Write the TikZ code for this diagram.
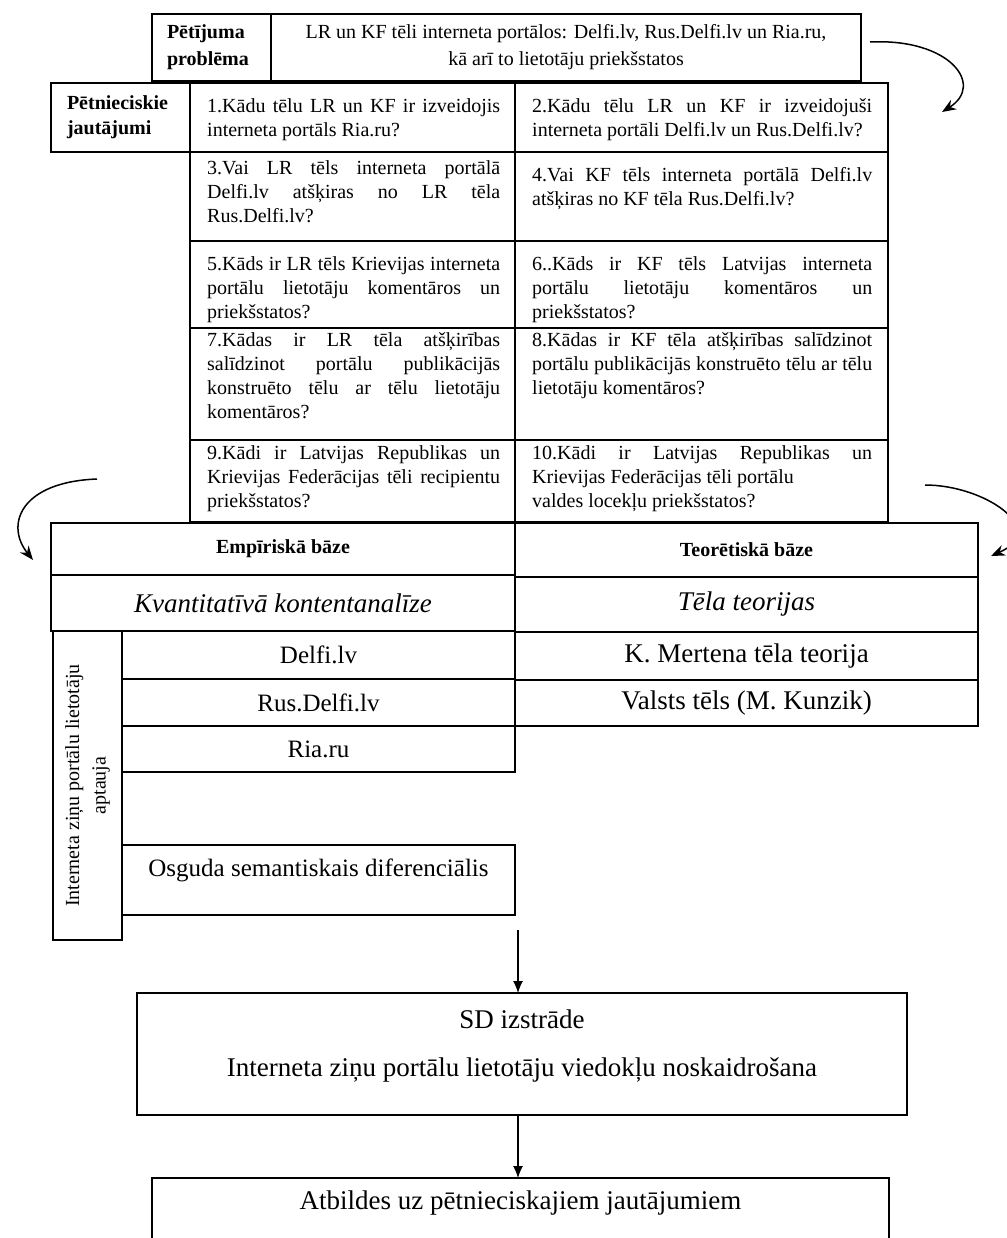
\documentclass[tikz,border=0pt]{standalone}
\usepackage{fontspec}
\setmainfont{Liberation Serif}
\usetikzlibrary{arrows.meta,positioning}
\hyphenpenalty=10000
\tolerance=9999
\emergencystretch=20pt

\begin{document}
\begin{tikzpicture}[x=1pt,y=-1pt,
	suna/.style={draw,rectangle,line width=1.3pt,inner sep=0pt,outer sep=0pt,anchor=north west},
	jaut/.style={anchor=north west,inner sep=0pt,align=justify,font=\fontsize{20}{24}\selectfont},
	virsraksts/.style={font=\bfseries\fontsize{20}{25}\selectfont},
	liels/.style={font=\fontsize{27}{32}\selectfont},
	videjs/.style={font=\fontsize{25}{30}\selectfont},
	bulta/.style={-{Stealth[length=14pt,width=11pt]},line width=1.5pt},
	lejup/.style={-{Latex[length=12pt,width=10pt]},line width=1.2pt}]

\useasboundingbox (0,0) rectangle (1006,1238);

%-------------------------------------------------------------------------------
% Petijuma problema
%-------------------------------------------------------------------------------
\node (probl) [suna,minimum width=119pt,minimum height=67pt,text width=89pt,align=left,
	font=\bfseries\fontsize{20}{27}\selectfont] at (152,14) {Pētījuma\\problēma};
\node (problema) [suna,right=0pt of probl.north east,anchor=north west,minimum width=590pt,minimum height=67pt,
	align=center,font=\fontsize{20}{27}\selectfont]
	{LR un KF tēli interneta portālos: Delfi.lv, Rus.Delfi.lv un Ria.ru,\\kā arī to lietotāju priekšstatos};

%-------------------------------------------------------------------------------
% Petnieciskie jautajumi
%-------------------------------------------------------------------------------
\node (petn) [suna,virsraksts,minimum width=139pt,minimum height=69pt,text width=107pt,align=left] at (51,83) {Pētnieciskie\\jautājumi};

\node (q1) [suna,minimum width=325pt,minimum height=69pt] at (190,83) {};
\node (q2) [suna,right=0pt of q1.north east,anchor=north west,minimum width=373pt,minimum height=69pt] {};
\node (q3) [suna,below=0pt of q1.south west,anchor=north west,minimum width=325pt,minimum height=89pt] {};
\node (q4) [suna,right=0pt of q3.north east,anchor=north west,minimum width=373pt,minimum height=89pt] {};
\node (q5) [suna,below=0pt of q3.south west,anchor=north west,minimum width=325pt,minimum height=87pt] {};
\node (q6) [suna,right=0pt of q5.north east,anchor=north west,minimum width=373pt,minimum height=87pt] {};
\node (q7) [suna,below=0pt of q5.south west,anchor=north west,minimum width=325pt,minimum height=112pt] {};
\node (q8) [suna,right=0pt of q7.north east,anchor=north west,minimum width=373pt,minimum height=112pt] {};
\node (q9) [suna,below=0pt of q7.south west,anchor=north west,minimum width=325pt,minimum height=82pt] {};
\node (q10) [suna,right=0pt of q9.north east,anchor=north west,minimum width=373pt,minimum height=82pt] {};

\node (t1) [jaut,text width=293pt] at ([xshift=17pt,yshift=-15pt]q1.north west)
	{1.Kādu tēlu LR un KF ir izveidojis\linebreak interneta portāls Ria.ru?};
\node (t2) [jaut,text width=340pt] at ([xshift=17pt,yshift=-15pt]q2.north west)
	{2.Kādu tēlu LR un KF ir izveidojuši\linebreak interneta portāli Delfi.lv un Rus.Delfi.lv?};
\node (t3) [jaut,text width=293pt] at ([xshift=17pt,yshift=-8pt]q3.north west)
	{3.Vai LR tēls interneta portālā\linebreak Delfi.lv atšķiras no LR tēla\linebreak Rus.Delfi.lv?};
\node (t4) [jaut,text width=340pt] at ([xshift=17pt,yshift=-15pt]q4.north west)
	{4.Vai KF tēls interneta portālā Delfi.lv\linebreak atšķiras no KF tēla Rus.Delfi.lv?};
\node (t5) [jaut,text width=293pt] at ([xshift=17pt,yshift=-15pt]q5.north west)
	{5.Kāds ir LR tēls Krievijas interneta\linebreak portālu lietotāju komentāros un\linebreak priekšstatos?};
\node (t6) [jaut,text width=340pt] at ([xshift=17pt,yshift=-15pt]q6.north west)
	{6..Kāds ir KF tēls Latvijas interneta\linebreak portālu lietotāju komentāros un\linebreak priekšstatos?};
\node (t7) [jaut,text width=293pt] at ([xshift=17pt,yshift=-4pt]q7.north west)
	{7.Kādas ir LR tēla atšķirības\linebreak salīdzinot portālu publikācijās\linebreak konstruēto tēlu ar tēlu lietotāju\linebreak komentāros?};
\node (t8) [jaut,text width=340pt] at ([xshift=17pt,yshift=-4pt]q8.north west)
	{8.Kādas ir KF tēla atšķirības salīdzinot\linebreak portālu publikācijās konstruēto tēlu ar tēlu\linebreak lietotāju komentāros?};
\node (t9) [jaut,text width=293pt] at ([xshift=17pt,yshift=-5pt]q9.north west)
	{9.Kādi ir Latvijas Republikas un\linebreak Krievijas Federācijas tēli recipientu\linebreak priekšstatos?};
\node (t10) [jaut,text width=340pt] at ([xshift=17pt,yshift=-5pt]q10.north west)
	{10.Kādi ir Latvijas Republikas un\linebreak Krievijas Federācijas tēli portālu\\valdes locekļu priekšstatos?};

%-------------------------------------------------------------------------------
% Empiriska un teoretiska baze
%-------------------------------------------------------------------------------
\node (empir) [suna,virsraksts,minimum width=464pt,minimum height=52pt] at (51,523) {Empīriskā bāze};
\node (teor) [suna,virsraksts,right=0pt of empir.north east,anchor=north west,minimum width=463pt,minimum height=54pt] {Teorētiskā bāze};
\node (kvant) [suna,liels,minimum width=464pt,minimum height=56pt] at (51,575) {\itshape Kvantitatīvā kontentanalīze};
\node (tela) [suna,liels,minimum width=463pt,minimum height=55pt] at (515,577) {\itshape Tēla teorijas};

\node (aptauja) [suna,minimum width=69pt,minimum height=309pt] at (53,631) {};
\node (aptt) [rotate=90,align=center,inner sep=0pt,font=\fontsize{20}{26.5}\selectfont] at (aptauja.center)
	{Interneta ziņu portālu lietotāju\\aptauja};

\node (delfi) [suna,videjs,right=0pt of aptauja.north east,anchor=north west,minimum width=393pt,minimum height=48pt] {Delfi.lv};
\node (rusdelfi) [suna,videjs,below=0pt of delfi.south west,anchor=north west,minimum width=393pt,minimum height=47pt] {Rus.Delfi.lv};
\node (ria) [suna,videjs,below=0pt of rusdelfi.south west,anchor=north west,minimum width=393pt,minimum height=46pt] {Ria.ru};

\node (mertena) [suna,liels,minimum width=463pt,minimum height=48pt] at (515,632) {K. Mertena tēla teorija};
\node (valsts) [suna,liels,below=0pt of mertena.south west,anchor=north west,minimum width=463pt,minimum height=46pt] {Valsts tēls (M. Kunzik)};

\node (osguda) [suna,minimum width=393pt,minimum height=70pt] at (122,845) {};
\node (osgt) [videjs] at ([yshift=10pt]osguda.center) {Osguda semantiskais diferenciālis};

%-------------------------------------------------------------------------------
% SD un atbildes
%-------------------------------------------------------------------------------
\node (sd) [suna,minimum width=770pt,minimum height=122pt] at (137,993) {};
\node (sdt) [align=center,font=\fontsize{27}{48}\selectfont] at ([yshift=8pt]sd.center)
	{SD izstrāde\\Interneta ziņu portālu lietotāju viedokļu noskaidrošana};
\node (atbildes) [suna,minimum width=737pt,minimum height=80pt] at (152,1178) {};
\node (atbt) [liels] at ([yshift=-25pt]atbildes.north) {Atbildes uz pētnieciskajiem jautājumiem};

\coordinate (osgbeigas) at (518,930);
\draw [lejup] (osgbeigas) -- (osgbeigas |- sd.north);
\draw [lejup] (sd.south -| osgbeigas) -- (osgbeigas |- atbildes.north);

%-------------------------------------------------------------------------------
% liektas bultas
%-------------------------------------------------------------------------------
\coordinate (b1s) at (870,42);
\coordinate (b1e) at (942,112);
\draw [bulta] (b1s) .. controls (950,38) and (985,85) .. (b1e);
\coordinate (b2s) at (97,479);
\coordinate (b2e) at (33,560);
\draw [bulta] (b2s) .. controls (20,482) and (5,525) .. (b2e);
\coordinate (b3s) at (925,485);
\coordinate (b3e) at (991,556);
\draw [bulta] (b3s) .. controls (985,485) and (1050,530) .. (b3e);
\end{tikzpicture}
\end{document}
